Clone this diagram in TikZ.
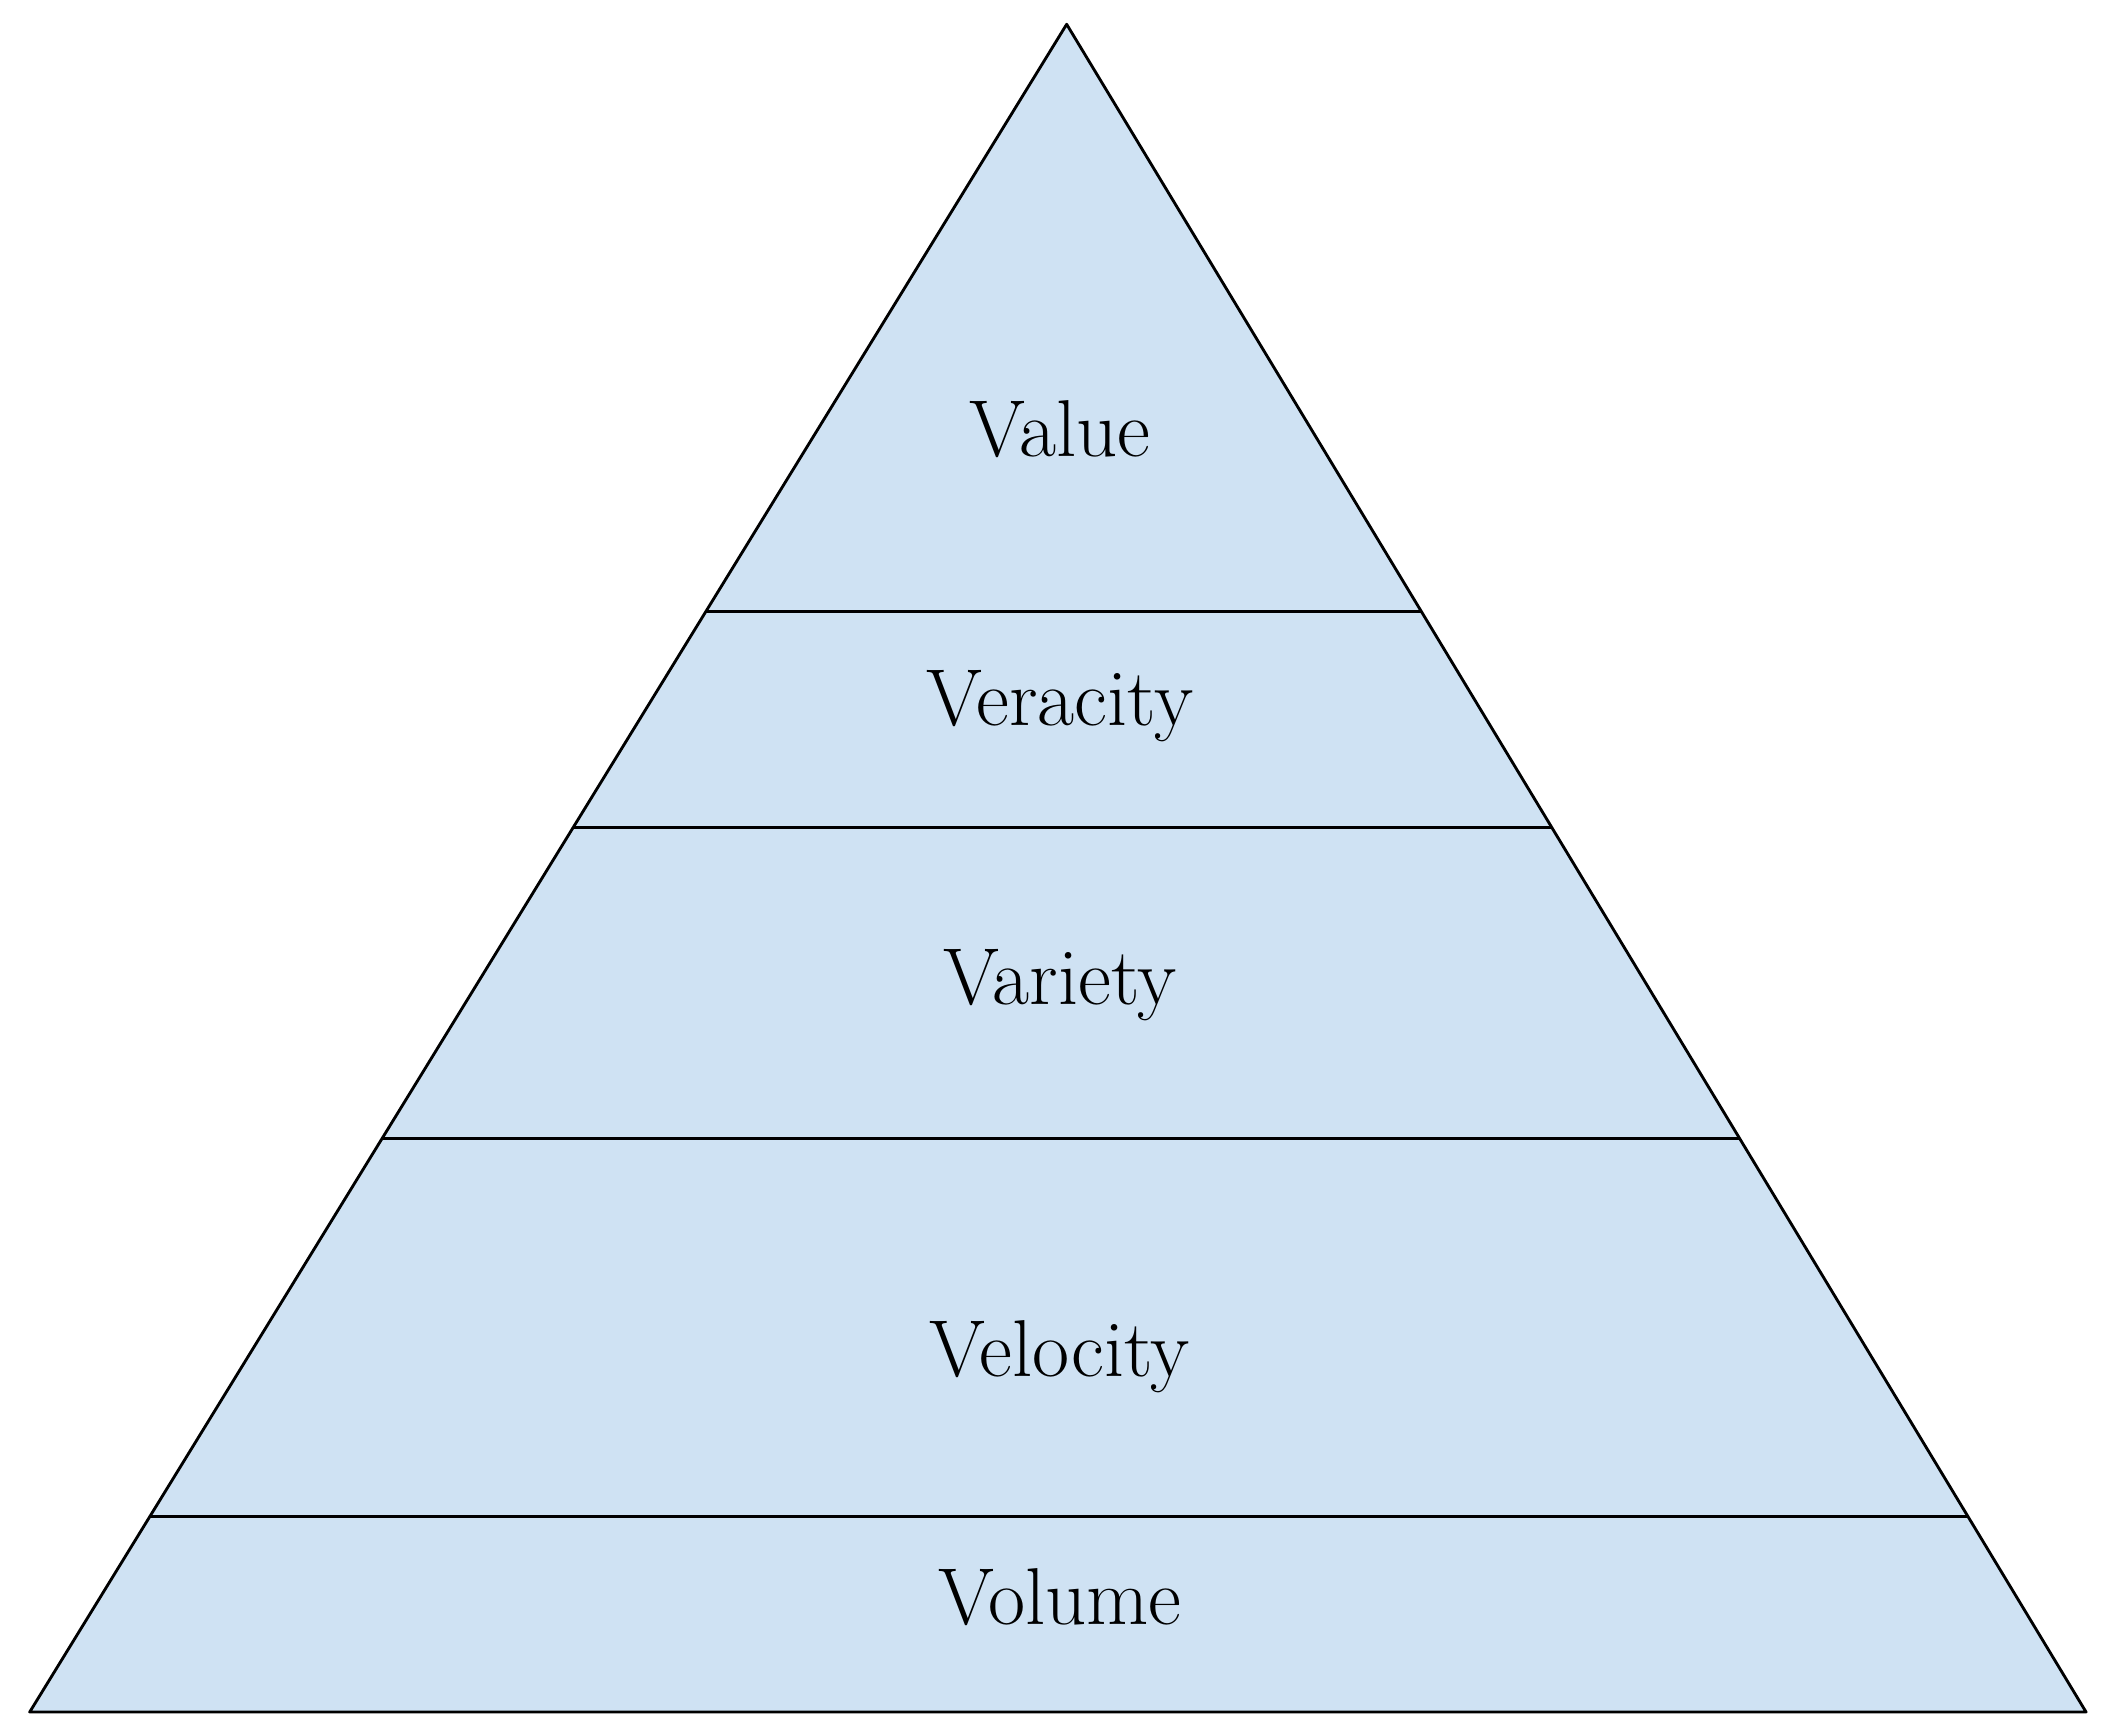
\documentclass[tikz,border=0pt]{standalone}
\usepackage{tikz}
\usetikzlibrary{calc}
\definecolor{bandblue}{RGB}{207,226,243}
\begin{document}
\begin{tikzpicture}[x=1cm,y=1cm]
\useasboundingbox (0,0) rectangle (15.62,12.82);
\tikzset{band/.style={fill=bandblue, draw=black, line width=0.6pt, line join=round},
  lbl/.style={font=\fontsize{17}{20}\selectfont}}
% pyramid outline
\coordinate (top) at (7.90,12.64);
\coordinate (bl) at (0.22,0.14);
\coordinate (br) at (15.45,0.14);
\draw [band] (top) -- (bl) -- (br) -- cycle;
% band borders
\foreach \y in {8.29,6.69,4.39,1.59}
  \draw [line width=0.6pt] ($(top)!{(12.64-\y)/12.5}!(bl)$) -- ($(top)!{(12.64-\y)/12.5}!(br)$);
% labels
\node [lbl] (value) at (7.85,9.64) {Value};
\node [lbl] (veracity) at (7.85,7.59) {Veracity};
\node [lbl] (variety) at (7.85,5.52) {Variety};
\node [lbl] (velocity) at (7.85,2.77) {Velocity};
\node [lbl] (volume) at (7.85,0.99) {Volume};
\end{tikzpicture}
\end{document}
